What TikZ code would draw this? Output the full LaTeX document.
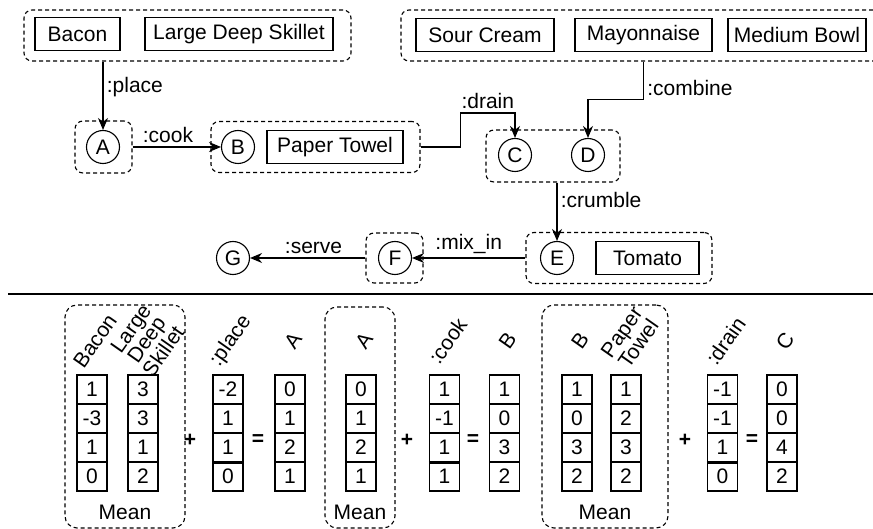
\documentclass[tikz,border=0pt]{standalone}
\usepackage{fontspec}
\setmainfont{Liberation Sans}
\usetikzlibrary{arrows.meta}

\begin{document}
\begin{tikzpicture}[x=1pt,y=-1pt,
  every node/.style={font=\fontsize{21}{23}\selectfont},
  ingr/.style={draw,line width=1.1pt,minimum height=33pt,inner sep=0pt},
  interm/.style={draw,circle,line width=1.1pt,minimum size=33pt,inner sep=0pt},
  grp/.style={draw,line width=1.1pt,dash pattern=on 4pt off 3pt,rounded corners=8pt},
  arr/.style={-{Stealth[length=12pt,width=10pt]},line width=1.1pt},
  cell/.style={draw,line width=1.1pt,minimum width=30pt,minimum height=29pt,inner sep=0pt},
  rotlbl/.style={rotate=55,align=center,inner sep=0pt,font=\fontsize{21}{19}\selectfont},
  op/.style={font=\fontsize{21}{23}\selectfont\bfseries}]
  \useasboundingbox (0,0) rectangle (873,529);

  % tools and ingredients
  \node[grp,minimum width=327pt,minimum height=51pt] (tools1) at (187.5,35.5) {};
  \node[ingr,minimum width=85pt] (bacon) at (77.5,34) {Bacon};
  \node[ingr,minimum width=188pt] (skillet) at (239,34) {Large Deep Skillet};
  \node[grp,minimum width=480pt,minimum height=51pt] (tools2) at (641,35.5) {};
  \node[ingr,minimum width=138pt] (sour) at (485,35) {Sour Cream};
  \node[ingr,minimum width=137pt] (mayo) at (643.5,35) {Mayonnaise};
  \node[ingr,minimum width=138pt] (bowl) at (797,35) {Medium Bowl};

  % intermediate states
  \node[grp,minimum width=57pt,minimum height=52pt] (gA) at (103.5,147) {};
  \node[interm] (A) at (103,147) {A};
  \node[grp,minimum width=209pt,minimum height=51pt] (gB) at (315.5,147) {};
  \node[interm] (B) at (238,147) {B};
  \node[ingr,minimum width=136pt] (towel) at (335,147) {Paper Towel};
  \node[grp,minimum width=134pt,minimum height=52pt] (gCD) at (553,156) {};
  \node[interm] (C) at (515,155) {C};
  \node[interm] (D) at (588,155) {D};
  \node[grp,minimum width=186pt,minimum height=51pt] (gE) at (619,258) {};
  \node[interm] (E) at (557,258) {E};
  \node[ingr,minimum width=103pt] (tomato) at (647.5,258) {Tomato};
  \node[grp,minimum width=57pt,minimum height=50pt] (gF) at (394.5,258) {};
  \node[interm] (F) at (395,258) {F};
  \node[interm] (G) at (233,258) {G};

  \draw[arr] (tools1.south -| A) -- node[right,pos=.38] {:place} (A);
  \draw[arr] (gA.east) -- node[above,pos=.4] {:cook} (B);
  \draw[arr] (gB.east) -- ++(40,0) -- ++(0,-34) -| node[above,pos=.25] {:drain} (C);
  \draw[arr] (tools2.south -| mayo) -- node[right,pos=.7] {:combine} ++(0,38) -| (D);
  \draw[arr] (gCD.south -| E) -- node[right,pos=.3] {:crumble} (E);
  \draw[arr] (gE.west) -- node[above] {:mix\_in} (F);
  \draw[arr] (gF.west) -- node[above,pos=.45] {:serve} (G);

  \draw[line width=2.2pt] (8,294) -- (873,294);

  % embeddings
  \node[grp,rounded corners=12pt,minimum width=120pt,minimum height=223pt] (mean1) at (125,416.5) {};
  \node[grp,rounded corners=12pt,minimum width=70pt,minimum height=221pt] (mean2) at (360,417.5) {};
  \node[grp,rounded corners=12pt,minimum width=126pt,minimum height=223pt] (mean3) at (605,416.5) {};
  \node (mean1-txt) at (125,512) {Mean};
  \node (mean2-txt) at (360,512) {Mean};
  \node (mean3-txt) at (605,512) {Mean};

  \foreach \col/\cx/\va/\vb/\vc/\vd in {bacon/92/1/-3/1/0, skl/143/3/3/1/2,
      place/228/-2/1/1/0, a/290/0/1/2/1, am/361/0/1/2/1, cook/444.5/1/-1/1/1,
      b/504.5/1/0/3/2, bm/577/1/0/3/2, ptowel/626/1/2/3/2, drain/722.5/-1/-1/1/0,
      c/782/0/0/4/2}
    \foreach \v [count=\i] in {\va,\vb,\vc,\vd}
      \node[cell] (\col-\i) at (\cx,360.5+29*\i) {\v};

  \foreach \col/\cx/\txt in {bacon/92/Bacon, place/228/:place, a/290/A, am/361/A,
      cook/444.5/:cook, b/504.5/B, bm/577/B, drain/722.5/:drain, c/782/C}
    \node[rotlbl] (\col-lbl) at (\cx+3,341) {\txt};
  \node[rotlbl] (skl-lbl) at (147,340) {Large\\Deep\\Skillet};
  \node[rotlbl] (ptowel-lbl) at (630,338) {Paper\\Towel};

  \foreach \col in {place,cook,drain}
    \draw[line width=2.5pt] (\col-3.south west) -- (\col-3.south east);

  \node[op] (plus1) at (190,440) {+};
  \node[op] (eq1) at (258,440) {=};
  \node[op] (plus2) at (407,440) {+};
  \node[op] (eq2) at (473,440) {=};
  \node[op] (plus3) at (685,440) {+};
  \node[op] (eq3) at (752,440) {=};
\end{tikzpicture}
\end{document}
